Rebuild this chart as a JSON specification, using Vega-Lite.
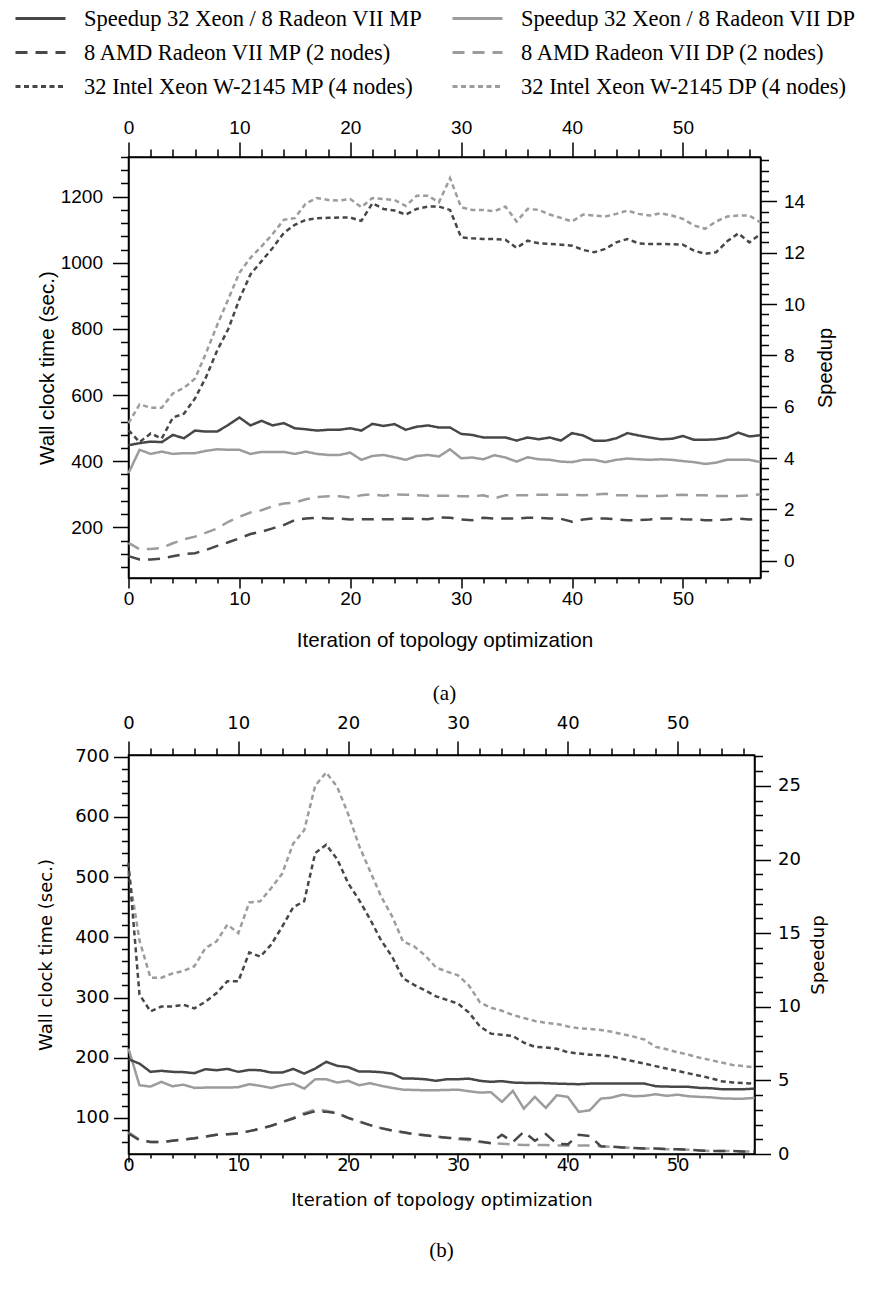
{
"$schema": "https://vega.github.io/schema/vega-lite/v6.json",
"background": "white",
"padding": {"left": 28.5, "top": 7, "right": 5, "bottom": 5},
"config": {
  "view": {"stroke": "black", "strokeWidth": 1.5},
  "axis": {"grid": false, "domainColor": "black", "domainWidth": 1.5, "tickColor": "black", "tickWidth": 1.5, "labelColor": "black", "titleColor": "black", "titleFontWeight": "normal", "labelFlush": false, "labelOverlap": false, "labelBound": false}
},
"datasets": {
"a": [
{"i":0,"amd_mp":113,"amd_dp":153,"intel_mp":494,"intel_dp":515,"sp_mp":4.5,"sp_dp":3.41},
{"i":1,"amd_mp":103,"amd_dp":134,"intel_mp":458,"intel_dp":572,"sp_mp":4.58,"sp_dp":4.32},
{"i":2,"amd_mp":103,"amd_dp":135,"intel_mp":484,"intel_dp":562,"sp_mp":4.64,"sp_dp":4.16},
{"i":3,"amd_mp":106,"amd_dp":138,"intel_mp":469,"intel_dp":562,"sp_mp":4.62,"sp_dp":4.25},
{"i":4,"amd_mp":113,"amd_dp":152,"intel_mp":532,"intel_dp":605,"sp_mp":4.9,"sp_dp":4.16},
{"i":5,"amd_mp":119,"amd_dp":164,"intel_mp":544,"intel_dp":622,"sp_mp":4.77,"sp_dp":4.19},
{"i":6,"amd_mp":122,"amd_dp":172,"intel_mp":590,"intel_dp":650,"sp_mp":5.07,"sp_dp":4.19},
{"i":7,"amd_mp":132,"amd_dp":184,"intel_mp":655,"intel_dp":728,"sp_mp":5.03,"sp_dp":4.28},
{"i":8,"amd_mp":144,"amd_dp":197,"intel_mp":735,"intel_dp":812,"sp_mp":5.03,"sp_dp":4.34},
{"i":9,"amd_mp":155,"amd_dp":217,"intel_mp":800,"intel_dp":890,"sp_mp":5.29,"sp_dp":4.32},
{"i":10,"amd_mp":167,"amd_dp":232,"intel_mp":890,"intel_dp":970,"sp_mp":5.58,"sp_dp":4.32},
{"i":11,"amd_mp":180,"amd_dp":245,"intel_mp":965,"intel_dp":1015,"sp_mp":5.27,"sp_dp":4.16},
{"i":12,"amd_mp":187,"amd_dp":252,"intel_mp":1005,"intel_dp":1050,"sp_mp":5.45,"sp_dp":4.24},
{"i":13,"amd_mp":197,"amd_dp":264,"intel_mp":1045,"intel_dp":1087,"sp_mp":5.27,"sp_dp":4.23},
{"i":14,"amd_mp":207,"amd_dp":272,"intel_mp":1090,"intel_dp":1130,"sp_mp":5.36,"sp_dp":4.24},
{"i":15,"amd_mp":222,"amd_dp":275,"intel_mp":1115,"intel_dp":1135,"sp_mp":5.16,"sp_dp":4.16},
{"i":16,"amd_mp":227,"amd_dp":285,"intel_mp":1130,"intel_dp":1180,"sp_mp":5.12,"sp_dp":4.25},
{"i":17,"amd_mp":229,"amd_dp":292,"intel_mp":1135,"intel_dp":1196,"sp_mp":5.07,"sp_dp":4.16},
{"i":18,"amd_mp":227,"amd_dp":294,"intel_mp":1136,"intel_dp":1190,"sp_mp":5.1,"sp_dp":4.12},
{"i":19,"amd_mp":227,"amd_dp":294,"intel_mp":1137,"intel_dp":1188,"sp_mp":5.1,"sp_dp":4.12},
{"i":20,"amd_mp":224,"amd_dp":290,"intel_mp":1137,"intel_dp":1193,"sp_mp":5.16,"sp_dp":4.21},
{"i":21,"amd_mp":225,"amd_dp":297,"intel_mp":1127,"intel_dp":1168,"sp_mp":5.07,"sp_dp":3.93},
{"i":22,"amd_mp":225,"amd_dp":300,"intel_mp":1180,"intel_dp":1196,"sp_mp":5.33,"sp_dp":4.08},
{"i":23,"amd_mp":225,"amd_dp":296,"intel_mp":1163,"intel_dp":1193,"sp_mp":5.25,"sp_dp":4.12},
{"i":24,"amd_mp":225,"amd_dp":300,"intel_mp":1158,"intel_dp":1190,"sp_mp":5.32,"sp_dp":4.03},
{"i":25,"amd_mp":227,"amd_dp":299,"intel_mp":1146,"intel_dp":1172,"sp_mp":5.1,"sp_dp":3.93},
{"i":26,"amd_mp":226,"amd_dp":297,"intel_mp":1163,"intel_dp":1203,"sp_mp":5.22,"sp_dp":4.08},
{"i":27,"amd_mp":225,"amd_dp":296,"intel_mp":1170,"intel_dp":1203,"sp_mp":5.27,"sp_dp":4.12},
{"i":28,"amd_mp":230,"amd_dp":296,"intel_mp":1170,"intel_dp":1183,"sp_mp":5.19,"sp_dp":4.06},
{"i":29,"amd_mp":229,"amd_dp":296,"intel_mp":1160,"intel_dp":1256,"sp_mp":5.19,"sp_dp":4.34},
{"i":30,"amd_mp":224,"amd_dp":294,"intel_mp":1077,"intel_dp":1168,"sp_mp":4.94,"sp_dp":3.99},
{"i":31,"amd_mp":222,"amd_dp":294,"intel_mp":1074,"intel_dp":1160,"sp_mp":4.9,"sp_dp":4.02},
{"i":32,"amd_mp":229,"amd_dp":297,"intel_mp":1072,"intel_dp":1160,"sp_mp":4.8,"sp_dp":3.95},
{"i":33,"amd_mp":227,"amd_dp":288,"intel_mp":1072,"intel_dp":1156,"sp_mp":4.8,"sp_dp":4.11},
{"i":34,"amd_mp":227,"amd_dp":297,"intel_mp":1070,"intel_dp":1170,"sp_mp":4.8,"sp_dp":4.02},
{"i":35,"amd_mp":227,"amd_dp":297,"intel_mp":1045,"intel_dp":1125,"sp_mp":4.68,"sp_dp":3.86},
{"i":36,"amd_mp":229,"amd_dp":297,"intel_mp":1067,"intel_dp":1163,"sp_mp":4.8,"sp_dp":4.03},
{"i":37,"amd_mp":229,"amd_dp":299,"intel_mp":1059,"intel_dp":1160,"sp_mp":4.73,"sp_dp":3.95},
{"i":38,"amd_mp":227,"amd_dp":299,"intel_mp":1057,"intel_dp":1146,"sp_mp":4.8,"sp_dp":3.93},
{"i":39,"amd_mp":226,"amd_dp":299,"intel_mp":1055,"intel_dp":1136,"sp_mp":4.68,"sp_dp":3.86},
{"i":40,"amd_mp":217,"amd_dp":299,"intel_mp":1052,"intel_dp":1125,"sp_mp":4.97,"sp_dp":3.84},
{"i":41,"amd_mp":224,"amd_dp":297,"intel_mp":1039,"intel_dp":1146,"sp_mp":4.88,"sp_dp":3.93},
{"i":42,"amd_mp":227,"amd_dp":299,"intel_mp":1032,"intel_dp":1143,"sp_mp":4.67,"sp_dp":3.93},
{"i":43,"amd_mp":227,"amd_dp":302,"intel_mp":1042,"intel_dp":1140,"sp_mp":4.67,"sp_dp":3.84},
{"i":44,"amd_mp":224,"amd_dp":297,"intel_mp":1062,"intel_dp":1148,"sp_mp":4.77,"sp_dp":3.93},
{"i":45,"amd_mp":222,"amd_dp":297,"intel_mp":1072,"intel_dp":1158,"sp_mp":4.97,"sp_dp":3.98},
{"i":46,"amd_mp":222,"amd_dp":295,"intel_mp":1059,"intel_dp":1148,"sp_mp":4.88,"sp_dp":3.95},
{"i":47,"amd_mp":224,"amd_dp":295,"intel_mp":1057,"intel_dp":1143,"sp_mp":4.8,"sp_dp":3.93},
{"i":48,"amd_mp":227,"amd_dp":295,"intel_mp":1057,"intel_dp":1150,"sp_mp":4.73,"sp_dp":3.95},
{"i":49,"amd_mp":227,"amd_dp":297,"intel_mp":1056,"intel_dp":1143,"sp_mp":4.75,"sp_dp":3.93},
{"i":50,"amd_mp":225,"amd_dp":299,"intel_mp":1055,"intel_dp":1133,"sp_mp":4.86,"sp_dp":3.88},
{"i":51,"amd_mp":224,"amd_dp":297,"intel_mp":1037,"intel_dp":1113,"sp_mp":4.71,"sp_dp":3.84},
{"i":52,"amd_mp":222,"amd_dp":297,"intel_mp":1027,"intel_dp":1103,"sp_mp":4.71,"sp_dp":3.77},
{"i":53,"amd_mp":222,"amd_dp":295,"intel_mp":1032,"intel_dp":1125,"sp_mp":4.73,"sp_dp":3.82},
{"i":54,"amd_mp":224,"amd_dp":295,"intel_mp":1065,"intel_dp":1140,"sp_mp":4.8,"sp_dp":3.93},
{"i":55,"amd_mp":227,"amd_dp":295,"intel_mp":1089,"intel_dp":1143,"sp_mp":4.99,"sp_dp":3.93},
{"i":56,"amd_mp":224,"amd_dp":297,"intel_mp":1062,"intel_dp":1143,"sp_mp":4.84,"sp_dp":3.93},
{"i":57,"amd_mp":227,"amd_dp":300,"intel_mp":1087,"intel_dp":1122,"sp_mp":4.89,"sp_dp":3.84}
],
"b": [
{"i":0,"amd_mp":74,"amd_dp":76,"intel_mp":524,"intel_dp":510,"sp_mp":6.44,"sp_dp":7.16},
{"i":1,"amd_mp":63,"amd_dp":64,"intel_mp":305,"intel_dp":395,"sp_mp":6.14,"sp_dp":4.67},
{"i":2,"amd_mp":60,"amd_dp":60,"intel_mp":277,"intel_dp":333,"sp_mp":5.58,"sp_dp":4.58},
{"i":3,"amd_mp":60,"amd_dp":60,"intel_mp":285,"intel_dp":333,"sp_mp":5.65,"sp_dp":4.9},
{"i":4,"amd_mp":62,"amd_dp":62,"intel_mp":285,"intel_dp":340,"sp_mp":5.58,"sp_dp":4.6},
{"i":5,"amd_mp":64,"amd_dp":64,"intel_mp":288,"intel_dp":344,"sp_mp":5.56,"sp_dp":4.71},
{"i":6,"amd_mp":66,"amd_dp":66,"intel_mp":282,"intel_dp":352,"sp_mp":5.49,"sp_dp":4.49},
{"i":7,"amd_mp":69,"amd_dp":69,"intel_mp":293,"intel_dp":382,"sp_mp":5.76,"sp_dp":4.51},
{"i":8,"amd_mp":72,"amd_dp":72,"intel_mp":307,"intel_dp":393,"sp_mp":5.69,"sp_dp":4.51},
{"i":9,"amd_mp":73,"amd_dp":73,"intel_mp":327,"intel_dp":421,"sp_mp":5.78,"sp_dp":4.51},
{"i":10,"amd_mp":74,"amd_dp":74,"intel_mp":327,"intel_dp":407,"sp_mp":5.58,"sp_dp":4.54},
{"i":11,"amd_mp":78,"amd_dp":78,"intel_mp":375,"intel_dp":458,"sp_mp":5.71,"sp_dp":4.74},
{"i":12,"amd_mp":82,"amd_dp":82,"intel_mp":368,"intel_dp":460,"sp_mp":5.69,"sp_dp":4.63},
{"i":13,"amd_mp":87,"amd_dp":87,"intel_mp":388,"intel_dp":482,"sp_mp":5.53,"sp_dp":4.49},
{"i":14,"amd_mp":93,"amd_dp":93,"intel_mp":418,"intel_dp":506,"sp_mp":5.53,"sp_dp":4.67},
{"i":15,"amd_mp":99,"amd_dp":100,"intel_mp":450,"intel_dp":556,"sp_mp":5.78,"sp_dp":4.78},
{"i":16,"amd_mp":106,"amd_dp":108,"intel_mp":460,"intel_dp":578,"sp_mp":5.46,"sp_dp":4.44},
{"i":17,"amd_mp":111,"amd_dp":114,"intel_mp":540,"intel_dp":652,"sp_mp":5.8,"sp_dp":5.08},
{"i":18,"amd_mp":110,"amd_dp":112,"intel_mp":554,"intel_dp":674,"sp_mp":6.26,"sp_dp":5.08},
{"i":19,"amd_mp":108,"amd_dp":108,"intel_mp":530,"intel_dp":650,"sp_mp":5.99,"sp_dp":4.85},
{"i":20,"amd_mp":100,"amd_dp":100,"intel_mp":490,"intel_dp":605,"sp_mp":5.9,"sp_dp":4.97},
{"i":21,"amd_mp":94,"amd_dp":94,"intel_mp":462,"intel_dp":552,"sp_mp":5.6,"sp_dp":4.67},
{"i":22,"amd_mp":88,"amd_dp":88,"intel_mp":430,"intel_dp":510,"sp_mp":5.6,"sp_dp":4.81},
{"i":23,"amd_mp":83,"amd_dp":83,"intel_mp":395,"intel_dp":468,"sp_mp":5.56,"sp_dp":4.63},
{"i":24,"amd_mp":79,"amd_dp":79,"intel_mp":368,"intel_dp":435,"sp_mp":5.46,"sp_dp":4.49},
{"i":25,"amd_mp":76,"amd_dp":76,"intel_mp":332,"intel_dp":393,"sp_mp":5.12,"sp_dp":4.37},
{"i":26,"amd_mp":73,"amd_dp":73,"intel_mp":321,"intel_dp":385,"sp_mp":5.12,"sp_dp":4.35},
{"i":27,"amd_mp":71,"amd_dp":71,"intel_mp":312,"intel_dp":370,"sp_mp":5.08,"sp_dp":4.33},
{"i":28,"amd_mp":69,"amd_dp":69,"intel_mp":302,"intel_dp":350,"sp_mp":4.97,"sp_dp":4.33},
{"i":29,"amd_mp":67,"amd_dp":67,"intel_mp":296,"intel_dp":343,"sp_mp":5.08,"sp_dp":4.35},
{"i":30,"amd_mp":66,"amd_dp":65,"intel_mp":290,"intel_dp":337,"sp_mp":5.08,"sp_dp":4.37},
{"i":31,"amd_mp":65,"amd_dp":63,"intel_mp":275,"intel_dp":320,"sp_mp":5.12,"sp_dp":4.26},
{"i":32,"amd_mp":61,"amd_dp":60,"intel_mp":252,"intel_dp":292,"sp_mp":4.97,"sp_dp":4.17},
{"i":33,"amd_mp":58,"amd_dp":58,"intel_mp":240,"intel_dp":283,"sp_mp":4.9,"sp_dp":4.2},
{"i":34,"amd_mp":72,"amd_dp":57,"intel_mp":238,"intel_dp":278,"sp_mp":4.95,"sp_dp":3.54},
{"i":35,"amd_mp":60,"amd_dp":56,"intel_mp":236,"intel_dp":271,"sp_mp":4.85,"sp_dp":4.29},
{"i":36,"amd_mp":77,"amd_dp":55,"intel_mp":225,"intel_dp":266,"sp_mp":4.83,"sp_dp":3.08},
{"i":37,"amd_mp":62,"amd_dp":55,"intel_mp":218,"intel_dp":261,"sp_mp":4.83,"sp_dp":3.88},
{"i":38,"amd_mp":73,"amd_dp":55,"intel_mp":217,"intel_dp":258,"sp_mp":4.81,"sp_dp":3.13},
{"i":39,"amd_mp":57,"amd_dp":54,"intel_mp":215,"intel_dp":256,"sp_mp":4.78,"sp_dp":3.99},
{"i":40,"amd_mp":56,"amd_dp":54,"intel_mp":209,"intel_dp":252,"sp_mp":4.76,"sp_dp":3.88},
{"i":41,"amd_mp":72,"amd_dp":54,"intel_mp":207,"intel_dp":249,"sp_mp":4.74,"sp_dp":2.86},
{"i":42,"amd_mp":70,"amd_dp":54,"intel_mp":205,"intel_dp":248,"sp_mp":4.78,"sp_dp":2.97},
{"i":43,"amd_mp":53,"amd_dp":53,"intel_mp":204,"intel_dp":246,"sp_mp":4.78,"sp_dp":3.76},
{"i":44,"amd_mp":52,"amd_dp":52,"intel_mp":202,"intel_dp":243,"sp_mp":4.78,"sp_dp":3.83},
{"i":45,"amd_mp":51,"amd_dp":51,"intel_mp":198,"intel_dp":239,"sp_mp":4.78,"sp_dp":4.03},
{"i":46,"amd_mp":50,"amd_dp":50,"intel_mp":194,"intel_dp":235,"sp_mp":4.78,"sp_dp":3.92},
{"i":47,"amd_mp":49,"amd_dp":49,"intel_mp":190,"intel_dp":230,"sp_mp":4.78,"sp_dp":3.95},
{"i":48,"amd_mp":49,"amd_dp":49,"intel_mp":186,"intel_dp":218,"sp_mp":4.6,"sp_dp":4.06},
{"i":49,"amd_mp":48,"amd_dp":48,"intel_mp":182,"intel_dp":214,"sp_mp":4.58,"sp_dp":3.95},
{"i":50,"amd_mp":48,"amd_dp":48,"intel_mp":178,"intel_dp":209,"sp_mp":4.56,"sp_dp":4.03},
{"i":51,"amd_mp":47,"amd_dp":47,"intel_mp":174,"intel_dp":205,"sp_mp":4.56,"sp_dp":3.92},
{"i":52,"amd_mp":46,"amd_dp":46,"intel_mp":170,"intel_dp":200,"sp_mp":4.49,"sp_dp":3.88},
{"i":53,"amd_mp":45,"amd_dp":45,"intel_mp":166,"intel_dp":196,"sp_mp":4.47,"sp_dp":3.85},
{"i":54,"amd_mp":45,"amd_dp":45,"intel_mp":161,"intel_dp":192,"sp_mp":4.4,"sp_dp":3.78},
{"i":55,"amd_mp":45,"amd_dp":45,"intel_mp":159,"intel_dp":188,"sp_mp":4.4,"sp_dp":3.76},
{"i":56,"amd_mp":44,"amd_dp":44,"intel_mp":158,"intel_dp":186,"sp_mp":4.4,"sp_dp":3.76},
{"i":57,"amd_mp":44,"amd_dp":44,"intel_mp":157,"intel_dp":184,"sp_mp":4.44,"sp_dp":3.81}
]
},
"spacing": 8,
"resolve": {"scale": {"color": "shared", "strokeDash": "shared"}},
"vconcat": [
{
  "width": 632, "height": 421,
  "data": {"name": "a"},
  "title": {"text": "(a)", "orient": "bottom", "font": "Liberation Serif", "fontSize": 21, "fontWeight": "normal", "color": "black", "offset": 32},
  "layer": [
    {
      "transform": [{"fold": ["amd_dp", "amd_mp", "intel_dp", "intel_mp"], "as": ["s", "v"]}],
      "mark": {"type": "line", "strokeWidth": 2.5},
      "encoding": {
        "x": {"field": "i", "type": "quantitative", "scale": {"domain": [0, 57], "nice": false, "zero": false},
          "axis": {"orient": "bottom", "title": "Iteration of topology optimization", "titleFont": "Liberation Sans", "titleFontSize": 20.6, "titlePadding": 22,
            "labelFont": "Liberation Sans", "labelFontSize": 19, "labelPadding": 1,
            "values": [0,2,4,6,8,10,12,14,16,18,20,22,24,26,28,30,32,34,36,38,40,42,44,46,48,50,52,54,56],
            "labelExpr": "datum.value % 10 === 0 ? datum.label : ''",
            "tickSize": {"condition": {"test": "datum.value % 10 === 0", "value": 10}, "value": 5}}},
        "y": {"field": "v", "type": "quantitative", "scale": {"domain": [47, 1320], "nice": false, "zero": false},
          "axis": {"orient": "left", "title": "Wall clock time (sec.)", "titleFont": "Liberation Sans", "titleFontSize": 20.6, "titlePadding": 3, "format": "d",
            "labelFont": "Liberation Sans", "labelFontSize": 19, "labelPadding": 10,
            "values": [80,120,160,200,240,280,320,360,400,440,480,520,560,600,640,680,720,760,800,840,880,920,960,1000,1040,1080,1120,1160,1200,1240,1280,1320],
            "labelExpr": "datum.value % 200 === 0 ? datum.label : ''",
            "tickSize": {"condition": {"test": "datum.value % 200 === 0", "value": 16}, "value": 8}}},
        "color": {"field": "s", "type": "nominal",
          "scale": {"domain": ["sp_mp", "amd_mp", "intel_mp", "sp_dp", "amd_dp", "intel_dp"], "range": ["#474747", "#474747", "#474747", "#9c9c9c", "#9c9c9c", "#9c9c9c"]},
          "legend": {"orient": "none", "legendX": -99.5, "legendY": -150, "columns": 2, "title": null, "symbolType": "M-2.5,0H2.5", "symbolSize": 400, "symbolStrokeWidth": 3,
            "labelFont": "Liberation Serif", "labelFontSize": 22.5, "labelColor": "black", "labelOffset": 32, "rowPadding": 11, "columnPadding": 23, "labelLimit": 0, "padding": 0,
            "labelExpr": "datum.label === 'sp_mp' ? 'Speedup 32 Xeon / 8 Radeon VII MP' : datum.label === 'sp_dp' ? 'Speedup 32 Xeon / 8 Radeon VII DP' : datum.label === 'amd_mp' ? '8 AMD Radeon VII MP (2 nodes)' : datum.label === 'amd_dp' ? '8 AMD Radeon VII DP (2 nodes)' : datum.label === 'intel_mp' ? '32 Intel Xeon W-2145 MP (4 nodes)' : '32 Intel Xeon W-2145 DP (4 nodes)'"}},
        "strokeDash": {"field": "s", "type": "nominal",
          "scale": {"domain": ["sp_mp", "amd_mp", "intel_mp", "sp_dp", "amd_dp", "intel_dp"], "range": [[1, 0], [12, 8], [5, 3.5], [1, 0], [12, 8], [5, 3.5]]}}
      }
    },
    {
      "transform": [{"fold": ["sp_dp", "sp_mp"], "as": ["s", "v"]}],
      "mark": {"type": "line", "strokeWidth": 2.5},
      "encoding": {
        "x": {"field": "i", "type": "quantitative", "scale": {"domain": [0, 57], "nice": false, "zero": false},
          "axis": {"orient": "top", "title": null, "labelFont": "Liberation Sans", "labelFontSize": 19, "labelPadding": 5,
            "values": [0,2,4,6,8,10,12,14,16,18,20,22,24,26,28,30,32,34,36,38,40,42,44,46,48,50,52,54,56],
            "labelExpr": "datum.value % 10 === 0 ? datum.label : ''",
            "tickSize": {"condition": {"test": "datum.value % 10 === 0", "value": 15}, "value": 8}}},
        "y": {"field": "v", "type": "quantitative", "scale": {"domain": [-0.675, 15.73], "nice": false, "zero": false},
          "axis": {"orient": "right", "title": "Speedup", "titleAngle": 270, "titleBaseline": "top", "titleFont": "Liberation Sans", "titleFontSize": 20, "titlePadding": 10.5,
            "labelFont": "Liberation Sans", "labelFontSize": 19, "labelPadding": 7, "labelOverlap": false,
            "values": [-0.4,0,0.4,0.8,1.2,1.6,2,2.4,2.8,3.2,3.6,4,4.4,4.8,5.2,5.6,6,6.4,6.8,7.2,7.6,8,8.4,8.8,9.2,9.6,10,10.4,10.8,11.2,11.6,12,12.4,12.8,13.2,13.6,14,14.4,14.8,15.2,15.6],
            "labelExpr": "abs(datum.value - 2 * round(datum.value / 2)) < 0.01 ? format(datum.value, 'd') : ''",
            "tickSize": {"condition": {"test": "abs(datum.value - 2 * round(datum.value / 2)) < 0.01", "value": 16}, "value": 8}}},
        "color": {"field": "s", "type": "nominal"},
        "strokeDash": {"field": "s", "type": "nominal"}
      }
    }
  ],
  "resolve": {"scale": {"y": "independent"}, "axis": {"x": "independent", "y": "independent"}}
},
{
  "width": 626, "height": 399,
  "data": {"name": "b"},
  "title": {"text": "(b)", "orient": "bottom", "font": "Liberation Serif", "fontSize": 21, "fontWeight": "normal", "color": "black", "offset": 31},
  "layer": [
    {
      "transform": [{"fold": ["amd_dp", "amd_mp", "intel_dp", "intel_mp"], "as": ["s", "v"]}],
      "mark": {"type": "line", "strokeWidth": 2.5},
      "encoding": {
        "x": {"field": "i", "type": "quantitative", "scale": {"domain": [0, 57], "nice": false, "zero": false},
          "axis": {"orient": "bottom", "title": "Iteration of topology optimization", "titleFont": "DejaVu Sans", "titleFontSize": 18, "titlePadding": 17,
            "labelFont": "DejaVu Sans", "labelFontSize": 18, "labelPadding": -6,
            "values": [0,2,4,6,8,10,12,14,16,18,20,22,24,26,28,30,32,34,36,38,40,42,44,46,48,50,52,54,56],
            "labelExpr": "datum.value % 10 === 0 ? datum.label : ''",
            "tickSize": {"condition": {"test": "datum.value % 10 === 0", "value": 8}, "value": 4}}},
        "y": {"field": "v", "type": "quantitative", "scale": {"domain": [40, 703], "nice": false, "zero": false},
          "axis": {"orient": "left", "title": "Wall clock time (sec.)", "titleFont": "DejaVu Sans", "titleFontSize": 18, "titlePadding": 19,
            "labelFont": "DejaVu Sans", "labelFontSize": 18, "labelPadding": 4.5,
            "values": [60,80,100,120,140,160,180,200,220,240,260,280,300,320,340,360,380,400,420,440,460,480,500,520,540,560,580,600,620,640,660,680,700],
            "labelExpr": "datum.value % 100 === 0 ? datum.label : ''",
            "tickSize": {"condition": {"test": "datum.value % 100 === 0", "value": 15}, "value": 7}}},
        "color": {"field": "s", "type": "nominal"},
        "strokeDash": {"field": "s", "type": "nominal"}
      }
    },
    {
      "transform": [{"fold": ["sp_dp", "sp_mp"], "as": ["s", "v"]}],
      "mark": {"type": "line", "strokeWidth": 2.5},
      "encoding": {
        "x": {"field": "i", "type": "quantitative", "scale": {"domain": [0, 57], "nice": false, "zero": false},
          "axis": {"orient": "top", "title": null, "labelFont": "DejaVu Sans", "labelFontSize": 18, "labelPadding": 8.5,
            "values": [0,2,4,6,8,10,12,14,16,18,20,22,24,26,28,30,32,34,36,38,40,42,44,46,48,50,52,54,56],
            "labelExpr": "datum.value % 10 === 0 ? datum.label : ''",
            "tickSize": {"condition": {"test": "datum.value % 10 === 0", "value": 14}, "value": 7}}},
        "y": {"field": "v", "type": "quantitative", "scale": {"domain": [0, 27.1], "nice": false, "zero": false},
          "axis": {"orient": "right", "title": "Speedup", "titleAngle": 270, "titleBaseline": "top", "titleFont": "DejaVu Sans", "titleFontSize": 18, "titlePadding": 9,
            "labelFont": "DejaVu Sans", "labelFontSize": 18, "labelPadding": 7,
            "values": [0,1,2,3,4,5,6,7,8,9,10,11,12,13,14,15,16,17,18,19,20,21,22,23,24,25,26,27],
            "labelExpr": "datum.value % 5 === 0 ? datum.label : ''",
            "tickSize": {"condition": {"test": "datum.value % 5 === 0", "value": 16}, "value": 8}}},
        "color": {"field": "s", "type": "nominal"},
        "strokeDash": {"field": "s", "type": "nominal"}
      }
    }
  ],
  "resolve": {"scale": {"y": "independent"}, "axis": {"x": "independent", "y": "independent"}}
}
]
}
